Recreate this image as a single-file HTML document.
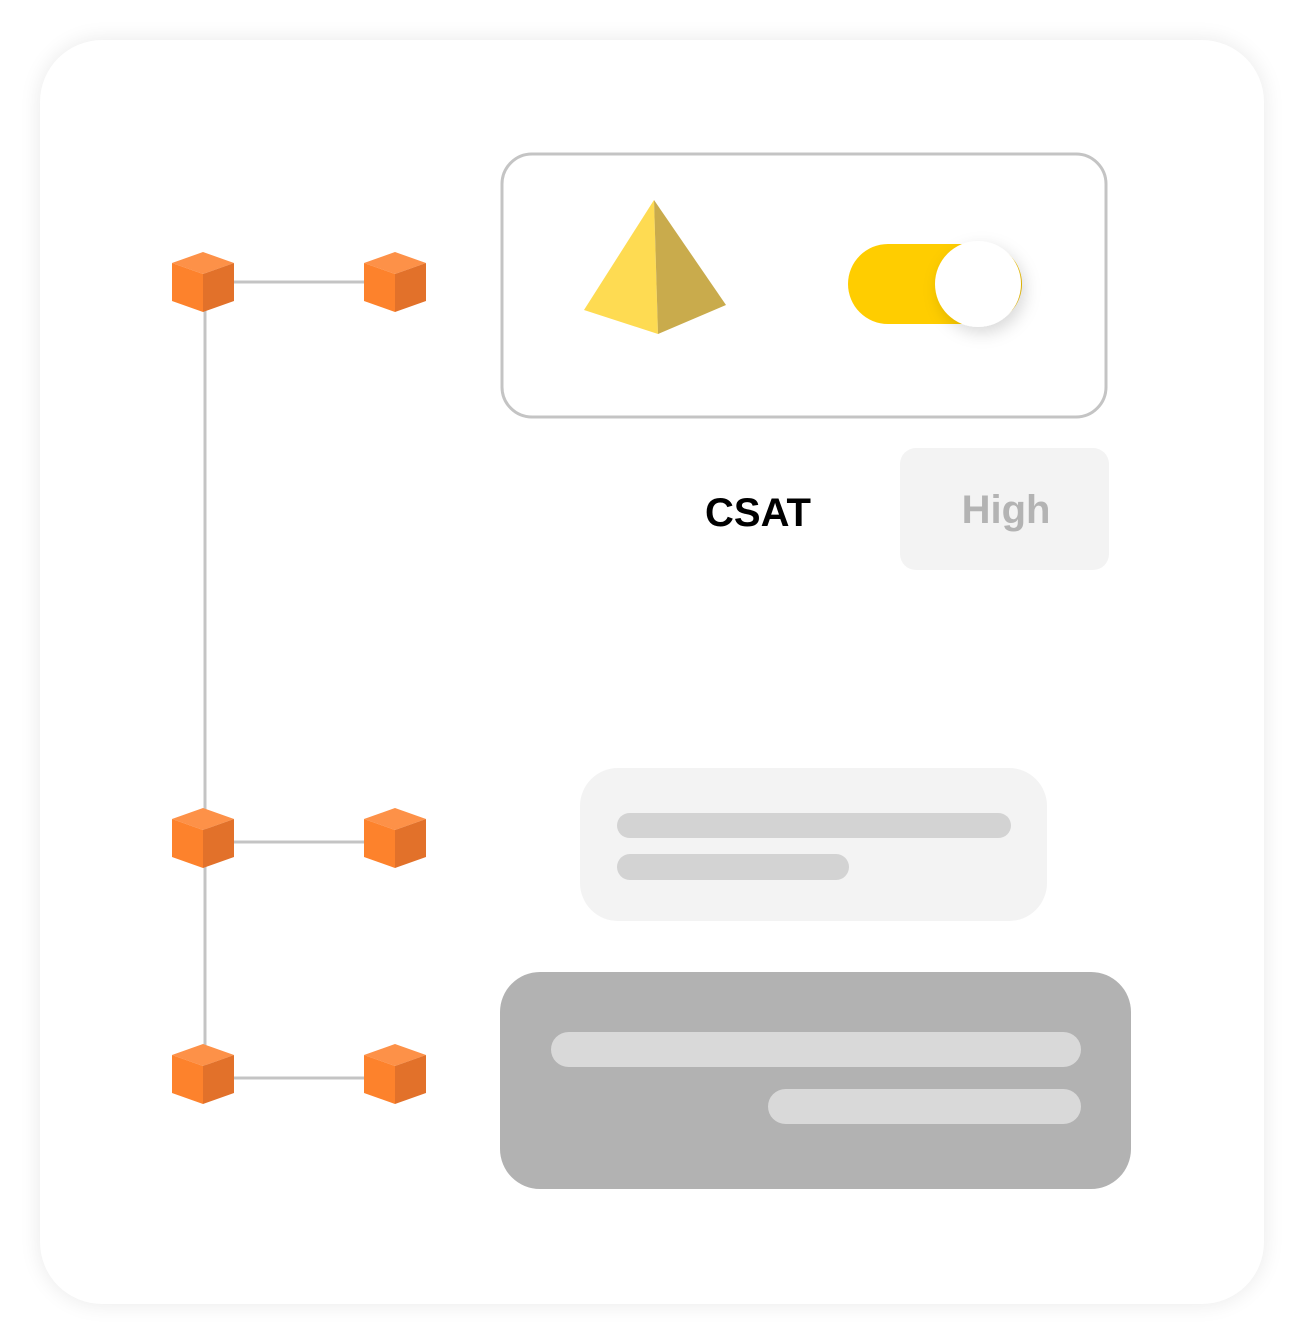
<!DOCTYPE html>
<html><head><style>
body{margin:0;width:1304px;height:1344px;background:#fff;position:relative;overflow:hidden;font-family:"Liberation Sans",sans-serif}
.card{position:absolute;left:40px;top:40px;width:1224px;height:1264px;border-radius:62px;background:#fff;box-shadow:0 0 22px rgba(0,0,0,0.09)}
.a{position:absolute}
</style></head><body>
<div class="card"></div>
<svg class="a" style="left:0;top:0" width="1304" height="1344">
<defs>
<g id="cube">
<polygon points="0,-30 31,-19 0,-8 -31,-19" fill="#fd9148"/>
<polygon points="-31,-19 0,-8 0,30 -31,19" fill="#fd822c"/>
<polygon points="31,-19 0,-8 0,30 31,19" fill="#e2712a"/>
</g>
<linearGradient id="tg" x1="0" x2="1"><stop offset="0.6" stop-color="#ffcd00"/><stop offset="1" stop-color="#f0c000"/></linearGradient>
<filter id="sh" x="-50%" y="-50%" width="200%" height="200%"><feDropShadow dx="4" dy="6" stdDeviation="8" flood-color="#000" flood-opacity="0.15"/></filter>
</defs>
<g stroke="#c4c4c4" stroke-width="3" fill="none">
<line x1="205" y1="282" x2="205" y2="1078"/>
<line x1="205" y1="282" x2="396" y2="282"/>
<line x1="205" y1="842" x2="396" y2="842"/>
<line x1="205" y1="1078" x2="396" y2="1078"/>
</g>
<use href="#cube" x="203" y="282"/><use href="#cube" x="395" y="282"/>
<use href="#cube" x="203" y="838"/><use href="#cube" x="395" y="838"/>
<use href="#cube" x="203" y="1074"/><use href="#cube" x="395" y="1074"/>
<rect x="502" y="154" width="604" height="263" rx="30" fill="#fff" stroke="#c4c4c4" stroke-width="3"/>
<polygon points="654,200 584,310 658,334" fill="#fedb52"/>
<polygon points="654,200 658,334 726,305" fill="#c9ab4c"/>
<rect x="848" y="244" width="174" height="80" rx="40" fill="url(#tg)"/>
<circle cx="978" cy="284" r="43" fill="#fff" filter="url(#sh)"/>
<rect x="900" y="448" width="209" height="122" rx="16" fill="#f3f3f3"/>
<text x="758" y="526" text-anchor="middle" font-size="40" font-weight="bold" fill="#000">CSAT</text>
<text x="1006" y="523" text-anchor="middle" font-size="40" font-weight="bold" fill="#b3b3b3">High</text>
<rect x="580" y="768" width="467" height="153" rx="38" fill="#f3f3f3"/>
<rect x="617" y="813" width="394" height="25" rx="12.5" fill="#d3d3d3"/>
<rect x="617" y="854" width="232" height="26" rx="13" fill="#d3d3d3"/>
<rect x="500" y="972" width="631" height="217" rx="40" fill="#b2b2b2"/>
<rect x="551" y="1032" width="530" height="35" rx="17.5" fill="#d9d9d9"/>
<rect x="768" y="1089" width="313" height="35" rx="17.5" fill="#d9d9d9"/>
</svg>
</body></html>
